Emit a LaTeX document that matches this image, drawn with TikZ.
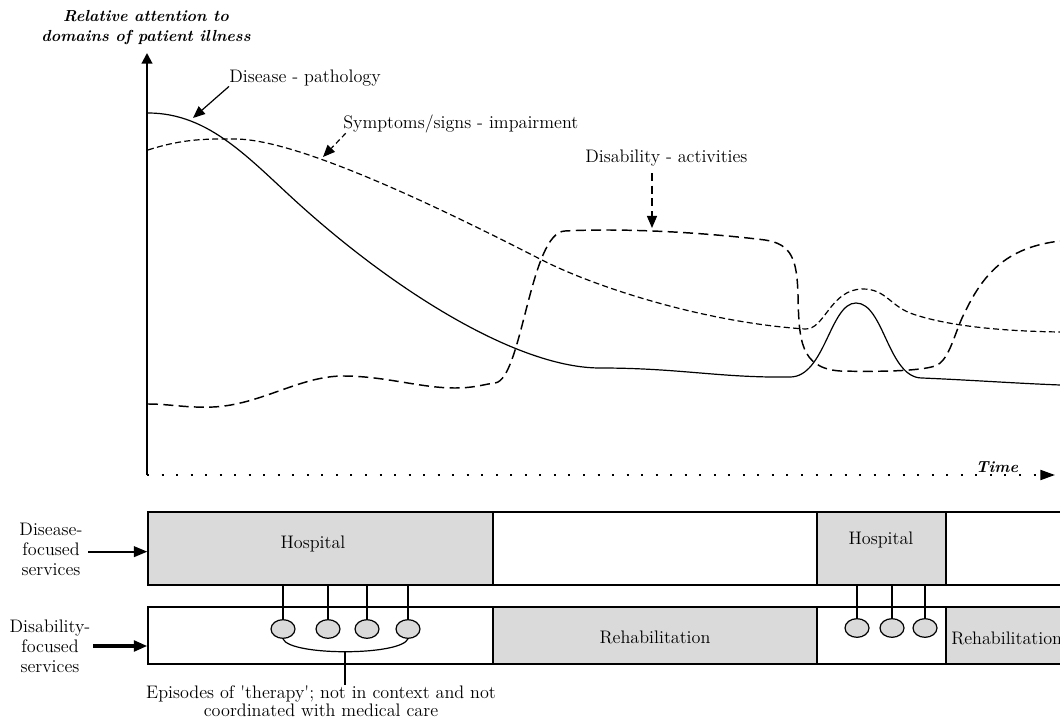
\documentclass[tikz,border=0pt]{standalone}
\usetikzlibrary{arrows.meta,shapes.geometric,fit}
\definecolor{boxgrey}{RGB}{218,218,218}
\begin{document}
\begin{tikzpicture}[x=0.75pt,y=-0.75pt,
  every node/.style={font=\fontsize{13.6}{15}\selectfont, inner sep=0pt},
  heading/.style={font=\fontsize{12}{15}\selectfont\bfseries\itshape},
  axisline/.style={line width=1.5pt},
  tip/.style={-{Triangle[length=9pt,width=7.5pt]}},
  diseasecurve/.style={line width=0.9pt},
  symptomcurve/.style={line width=0.9pt, dash pattern=on 4.5pt off 2.5pt},
  disabilitycurve/.style={line width=1.1pt, dash pattern=on 7.5pt off 4pt},
  greybox/.style={draw, line width=1.1pt, fill=boxgrey},
  whitebox/.style={draw, line width=1.1pt, fill=white},
  episode/.style={draw, ellipse, line width=0.9pt, fill=boxgrey, minimum width=18pt, minimum height=14pt},
  link/.style={line width=0.9pt}
]
\clip (0,0) rectangle (1060,720);

% ---------- axes ----------
\coordinate (O) at (147,475);
\coordinate (ytop) at (147,53);
\coordinate (xend) at (1055,475);
\draw[axisline, -{Triangle[length=8pt,width=8pt]}] (O) -- (ytop);
\draw[line width=1.5pt, dash pattern=on 1.5pt off 9.4pt,
      -{Triangle[length=11pt,width=7.5pt]}] (O) -- (xend);

\node[heading, align=center] (ttl) at (146,28) {Relative attention to\\domains of patient illness};
\node[heading] (tm) at (997,467) {Time};

% ---------- curves ----------
% disease - pathology
\draw[diseasecurve]
  (148,113) .. controls (210,113) and (250,160) .. (300,205)
            .. controls (400,295) and (520,368) .. (600,368)
            .. controls (680,368) and (720,378) .. (790,377)
            .. controls (825,377) and (830,303) .. (856,303)
            .. controls (884,303) and (888,378) .. (922,378)
            .. controls (970,380) and (1010,383) .. (1060,385);

% symptoms/signs - impairment
\draw[symptomcurve]
  (148,150) .. controls (185,138) and (210,139) .. (235,139)
            .. controls (300,139) and (450,213) .. (540,259)
            .. controls (590,285) and (700,322) .. (805,329)
            .. controls (825,330) and (830,289) .. (863,289)
            .. controls (885,289) and (890,305) .. (910,313)
            .. controls (940,324) and (990,331) .. (1060,332);

% disability - activities
\draw[disabilitycurve]
  (148,404) .. controls (170,404) and (185,408) .. (213,407)
            .. controls (260,405) and (300,376) .. (343,376)
            .. controls (385,376) and (420,388) .. (455,388)
            .. controls (475,388) and (485,384) .. (495,383)
            .. controls (522,380) and (530,232) .. (565,231)
            .. controls (620,228) and (700,232) .. (765,240)
            .. controls (792,244) and (797,260) .. (798,295)
            .. controls (799,340) and (800,368) .. (840,371)
            .. controls (880,372) and (920,371) .. (935,366)
            .. controls (950,361) and (955,330) .. (965,312)
            .. controls (985,270) and (1010,247) .. (1060,241);

% ---------- curve labels ----------
\node[anchor=west] (dp) at (229,78) {Disease - pathology};
\coordinate (dtip) at (193,118);
\draw[link, tip] (dp.south west) -- (dtip);

\node[anchor=west] (sy) at (343,124) {Symptoms/signs - impairment};
\coordinate (stip) at (323,157);
\draw[link, tip, dash pattern=on 4pt off 2.5pt] ([xshift=2pt]sy.south west) -- (stip);

\node[anchor=west] (da) at (585,158) {Disability - activities};
\coordinate (atip) at (652,228);
\draw[link, tip, dash pattern=on 6pt off 3.5pt] ([yshift=-5pt]da.south -| atip) -- (atip);

% ---------- service rows ----------
\node[greybox, fit={(148,512) (493,585)}] (h1) {};
\node[whitebox, fit={(493,512) (817,585)}] (w1) {};
\node[greybox, fit={(817,512) (946,585)}] (h2) {};
\node[whitebox, fit={(946,512) (1075,585)}] (w2) {};
\node (h1t) at (313,544) {Hospital};
\node (h2t) at (881,540) {Hospital};

\node[whitebox, fit={(148,607) (493,664)}] (b1) {};
\node[greybox, fit={(493,607) (817,664)}] (r1) {};
\node[whitebox, fit={(817,607) (946,664)}] (b2) {};
\node[greybox, fit={(946,607) (1075,664)}] (r2) {};
\node (r1t) at (655,637) {Rehabilitation};
\node[anchor=west] (r2t) at (951,638) {Rehabilitation};

% left labels and arrows
\node[align=center] (dfs) at (51,549) {Disease-\\focused\\services};
\node[align=center] (bfs) at (50,646) {Disability-\\focused\\services};
\draw[line width=1.3pt, -{Triangle[length=10pt,width=8pt]}]
  ([xshift=4pt,yshift=-2pt]dfs.east) -- ([yshift=-2pt]dfs.east -| h1.west);
\draw[line width=2.3pt, -{Triangle[length=10pt,width=8pt]}]
  ([xshift=2pt]bfs.east) -- (bfs.east -| b1.west);

% episodes of therapy
\node[episode] (e1) at (283,629) {};
\node[episode] (e2) at (328,629) {};
\node[episode] (e3) at (367,629) {};
\node[episode] (e4) at (408,629) {};
\foreach \e in {e1,e2,e3,e4}
  \draw[link] (\e.north) -- (\e.north |- h1.south);

\node[episode] (f1) at (857,628) {};
\node[episode] (f2) at (892,628) {};
\node[episode] (f3) at (925,628) {};
\foreach \e in {f1,f2,f3}
  \draw[link] (\e.north) -- (\e.north |- h2.south);

\draw[link] (e1.south) .. controls (290,656) and (400,656) .. (e4.south);
\coordinate (bm) at (345,651);
\node[align=center, font=\fontsize{13.6}{13.5}\selectfont] (ep) at (321,701)
  {Episodes of \textquotesingle therapy\textquotesingle; not in context and not\\coordinated with medical care};
\draw[link] (bm) -- (bm |- ep.north);
\end{tikzpicture}
\end{document}
